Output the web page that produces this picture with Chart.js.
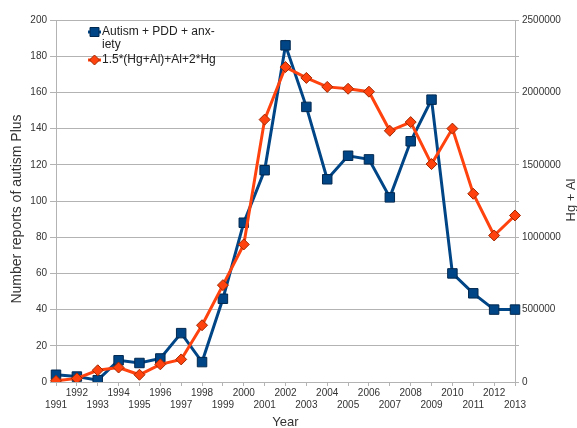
<!DOCTYPE html>
<html>
<head>
<meta charset="utf-8">
<script src="https://cdn.jsdelivr.net/npm/chart.js@4.4.1/dist/chart.umd.min.js"></script>
<style>
  html, body { margin: 0; padding: 0; background: #fff; }
  #wrap { width: 577px; height: 428px; position: relative; }
</style>
</head>
<body>
<div id="wrap"><canvas id="autismChart" width="577" height="428"></canvas></div>
<script>
// Data
const years = [1991, 1992, 1993, 1994, 1995, 1996, 1997, 1998, 1999, 2000, 2001, 2002,
               2003, 2004, 2005, 2006, 2007, 2008, 2009, 2010, 2011, 2012, 2013];

// Autism + PDD + anxiety (left axis)
const autismReports = [4, 3, 1, 12, 10.5, 13, 27, 11, 46, 88, 117, 186,
                       152, 112, 125, 123, 102, 133, 156, 60, 49, 40, 40];

// 1.5*(Hg+Al)+Al+2*Hg (right axis, Hg + Al)
const hgAlValues = [8000, 25000, 81000, 100000, 50000, 122000, 156000, 392000, 669000, 950000, 1812000, 2175000,
                    2100000, 2038000, 2025000, 2005000, 1735000, 1795000, 1505000, 1750000, 1300000, 1012000, 1150000];

const leftTicks = { min: 0, max: 200, step: 20 };
const rightTicks = { min: 0, max: 2500000, step: 250000, labelEvery: 500000 };

const FONT = "'Liberation Sans', Arial, sans-serif";
const gridColor = "#b3b3b3";
const textColor = "#333333";

// Legend + axis titles drawn by hand (wrapped legend text, bottom-to-top right title)
const extrasPlugin = {
    id: "extras",
    afterDraw(chart) {
        const ctx = chart.ctx;
        const area = chart.chartArea;
        ctx.save();

        // legend
        const items = [
            { lines: ["Autism + PDD + anx-", "iety"], color: "#004586", border: "#00284f", shape: "square", y: 32 },
            { lines: ["1.5*(Hg+Al)+Al+2*Hg"], color: "#ff420e", border: "#a02800", shape: "diamond", y: 60 },
        ];
        ctx.font = "12px " + FONT;
        ctx.textBaseline = "middle";
        ctx.textAlign = "left";
        items.forEach((it) => {
            ctx.strokeStyle = it.color;
            ctx.lineWidth = 3;
            ctx.beginPath();
            ctx.moveTo(88, it.y);
            ctx.lineTo(101, it.y);
            ctx.stroke();
            ctx.fillStyle = it.color;
            ctx.strokeStyle = it.border;
            ctx.lineWidth = 1;
            ctx.beginPath();
            if (it.shape === "square") {
                ctx.rect(90, it.y - 4.5, 9, 9);
            } else {
                ctx.moveTo(94.5, it.y - 5);
                ctx.lineTo(99.5, it.y);
                ctx.lineTo(94.5, it.y + 5);
                ctx.lineTo(89.5, it.y);
                ctx.closePath();
            }
            ctx.fill();
            ctx.stroke();
            ctx.fillStyle = "#222";
            it.lines.forEach((t, i) => ctx.fillText(t, 102, it.y + i * 13));
        });

        ctx.fillStyle = textColor;
        ctx.textAlign = "center";

        // x title
        ctx.font = "13px " + FONT;
        ctx.fillText("Year", (area.left + area.right) / 2, 422);

        // left title
        ctx.save();
        ctx.translate(17, 209);
        ctx.rotate(-Math.PI / 2);
        ctx.font = "14px " + FONT;
        ctx.fillText("Number reports of autism Plus", 0, 0);
        ctx.restore();

        // right title
        ctx.translate(571, 200);
        ctx.rotate(-Math.PI / 2);
        ctx.font = "13px " + FONT;
        ctx.fillText("Hg + Al", 0, 0);
        ctx.restore();
    },
};

const xLabels = years.map((y) => (y % 2 === 1 ? ["", String(y)] : [String(y)]));

new Chart(document.getElementById("autismChart"), {
    type: "line",
    data: {
        labels: xLabels,
        datasets: [
            {
                label: "Autism + PDD + anxiety",
                data: autismReports,
                yAxisID: "y",
                borderColor: "#004586",
                backgroundColor: "#004586",
                pointBorderColor: "#00284f",
                pointBorderWidth: 1,
                borderWidth: 3,
                pointStyle: "rect",
                pointRadius: 6.7,
                tension: 0,
                order: 2,
            },
            {
                label: "1.5*(Hg+Al)+Al+2*Hg",
                data: hgAlValues,
                yAxisID: "y1",
                borderColor: "#ff420e",
                backgroundColor: "#ff420e",
                pointBorderColor: "#a02800",
                pointBorderWidth: 1,
                borderWidth: 3,
                pointStyle: "rectRot",
                pointRadius: 5.5,
                tension: 0,
                order: 1,
            },
        ],
    },
    options: {
        responsive: false,
        animation: false,
        layout: { padding: { top: 20, left: 0, right: 0, bottom: 0 } },
        plugins: {
            legend: { display: false },
            tooltip: { enabled: false },
        },
        scales: {
            x: {
                type: "category",
                offset: false,
                afterFit: (s) => { s.height = 46; },
                grid: { drawOnChartArea: false, drawTicks: true, tickLength: 4, color: gridColor },
                border: { display: true, color: gridColor },
                ticks: {
                    autoSkip: false,
                    maxRotation: 0,
                    minRotation: 0,
                    padding: 1,
                    color: textColor,
                    font: { family: FONT, size: 10, lineHeight: 1.2 },
                },
            },
            y: {
                position: "left",
                min: leftTicks.min,
                max: leftTicks.max,
                afterFit: (s) => { s.width = 56; },
                grid: { color: gridColor, tickLength: 6 },
                border: { display: true, color: gridColor },
                ticks: {
                    stepSize: leftTicks.step,
                    padding: 3,
                    color: textColor,
                    font: { family: FONT, size: 10 },
                },
            },
            y1: {
                position: "right",
                min: rightTicks.min,
                max: rightTicks.max,
                afterFit: (s) => { s.width = 62; },
                grid: { drawOnChartArea: false, color: gridColor, tickLength: 4 },
                border: { display: true, color: gridColor },
                ticks: {
                    stepSize: rightTicks.step,
                    padding: 3,
                    color: textColor,
                    font: { family: FONT, size: 10 },
                    callback: (v) => (v % rightTicks.labelEvery === 0 ? String(v) : ""),
                },
            },
        },
    },
    plugins: [extrasPlugin],
});
</script>
</body>
</html>
